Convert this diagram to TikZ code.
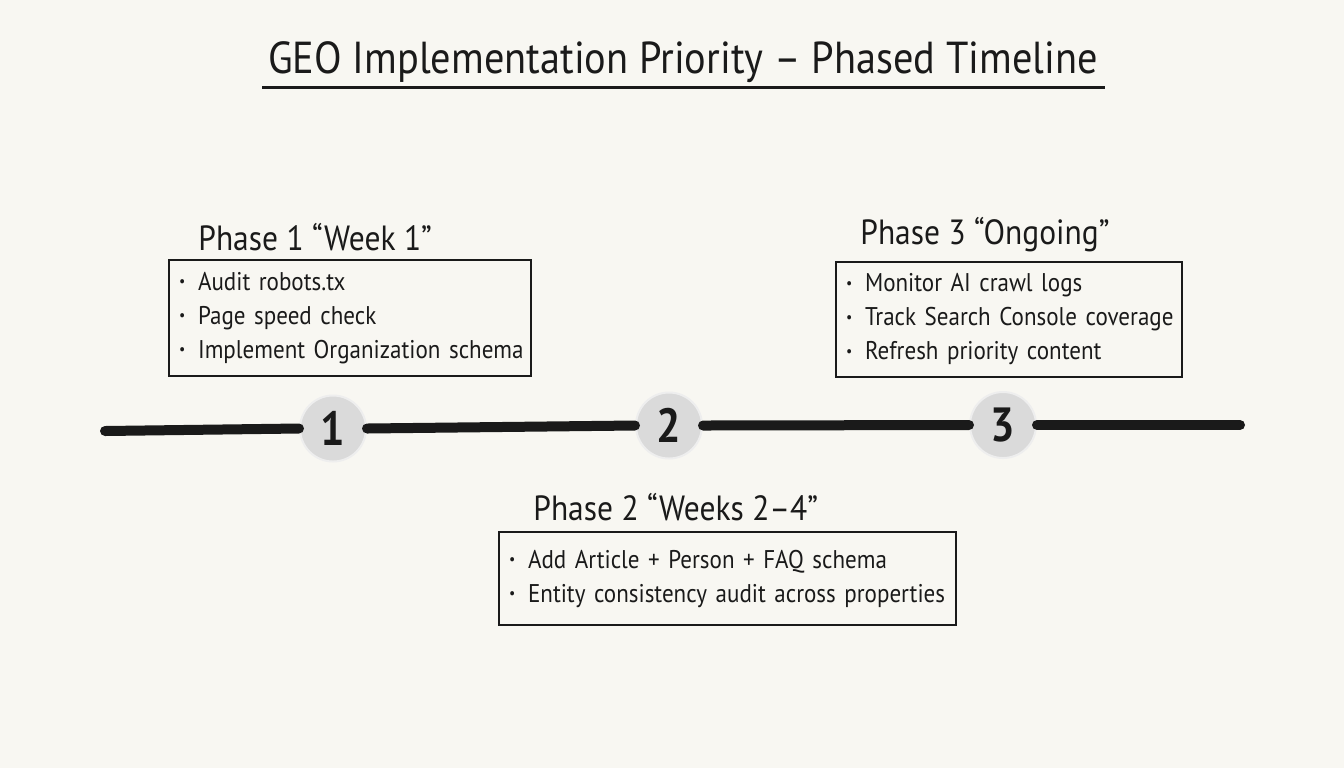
\documentclass[tikz,border=0pt]{standalone}
\usepackage{fontspec}
\setmainfont{PT Sans}[FakeStretch=0.9]
\definecolor{bg}{HTML}{F8F7F2}
\definecolor{ink}{HTML}{1A1A1A}
\definecolor{dotfill}{HTML}{DADADA}
\definecolor{dotedge}{HTML}{EEEEEE}
\newcommand{\bul}[1]{\mbox{\raisebox{0.3ex}{\scalebox{0.6}{\textbullet}}\hspace{0.5em}#1}}
\hyphenpenalty=10000
\begin{document}
\begin{tikzpicture}[x=0.5pt,y=-0.5pt,
  every node/.style={text=ink},
  phasebox/.style={draw=ink, line width=1pt, align=left, inner xsep=5pt, inner ysep=0pt, font=\fontsize{12.8}{16.5}\selectfont},
  heading/.style={font=\fontsize{17.5}{21}\selectfont, anchor=west, inner sep=0pt},
  marker/.style={circle, fill=dotfill, draw=dotedge, line width=1pt, minimum size=33pt, inner sep=0pt, font=\bfseries\fontsize{24}{24}\selectfont},
  tline/.style={line width=5pt, line cap=round, draw=ink}]
\fill[bg] (0,0) rectangle (1344,768);
\useasboundingbox (0,0) rectangle (1344,768);
% title
\node[font=\fontsize{22.4}{26}\selectfont, inner sep=0pt] (title) at (683,62) {GEO Implementation Priority – Phased Timeline};
\draw[ink, line width=1.5pt] (262,87) -- (1105,87);
% timeline
\coordinate (L) at (105,431);
\coordinate (R) at (1240,425);
\node[marker] (c1) at (333,428.5) {1};
\node[marker] (c2) at (669,425.5) {2};
\node[marker] (c3) at (1003,425) {3};
\draw[tline] (L) -- (c1.west);
\draw[tline] (c1.east) -- (c2.west);
\draw[tline] (c2.east) -- (c3.west);
\draw[tline] (c3.east) -- (R);
% phase 1
\node[heading] (h1) at (198,237) {Phase 1 “Week 1”};
\node[phasebox, text width=171pt, minimum height=58pt] (b1) at (350,318)
  {\bul{Audit robots.tx}\\[0.5pt]\bul{Page speed check}\\[0.5pt]\bul{Implement Organization schema}};
% phase 3
\node[heading] (h3) at (860,235) {Phase 3 “Ongoing”};
\node[phasebox, text width=163pt, minimum height=57.5pt] (b3) at (1009,319.5)
  {\bul{Monitor AI crawl logs}\\[0.5pt]\bul{Track Search Console coverage}\\[0.5pt]\bul{Refresh priority content}};
% phase 2
\node[heading] (h2) at (533,507) {Phase 2 “Weeks 2–4”};
\node[phasebox, text width=218.5pt, minimum height=46.5pt] (b2) at (727.5,578.5)
  {\bul{Add Article + Person + FAQ schema}\\[0.5pt]\bul{Entity consistency audit across properties}};
\end{tikzpicture}
\end{document}
